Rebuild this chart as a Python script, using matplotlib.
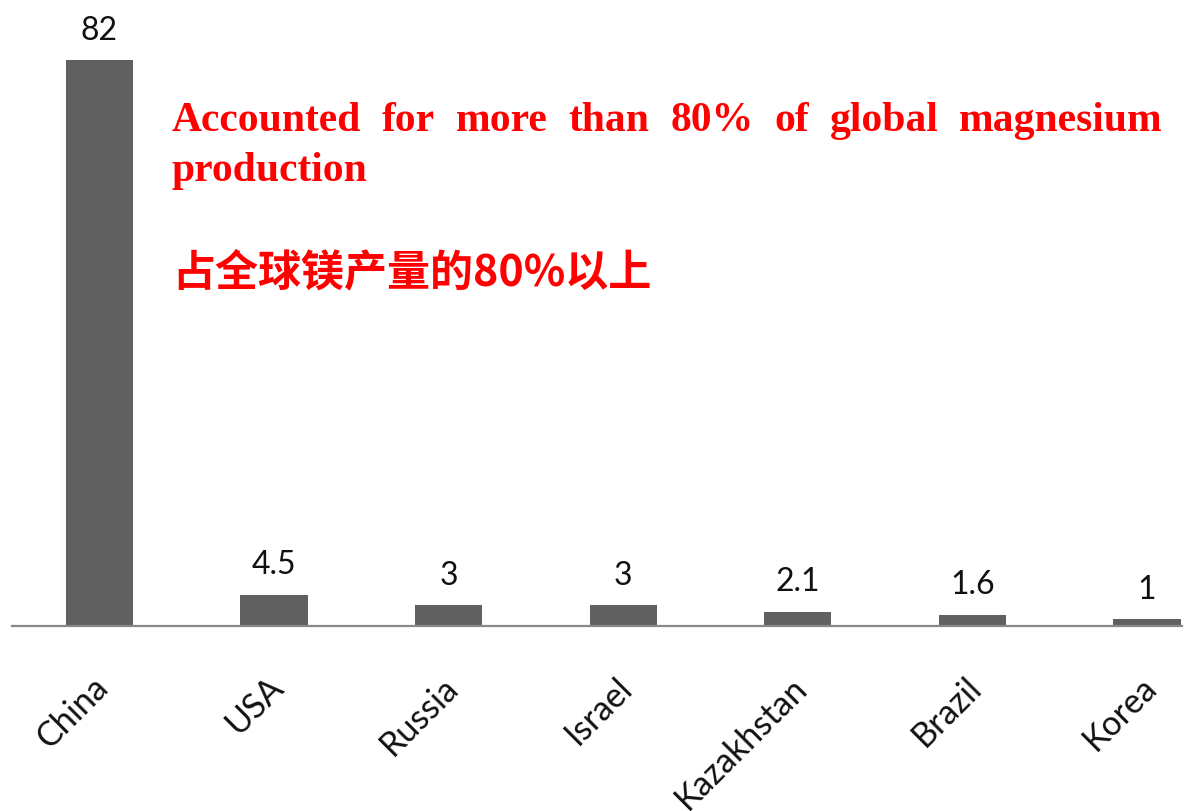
import matplotlib
matplotlib.use("Agg")
import matplotlib.pyplot as plt

# dados
paises = ["China", "USA", "Russia", "Israel", "Kazakhstan", "Brazil", "Korea"]
producao = [82, 4.5, 3, 3, 2.1, 1.6, 1]
rotulos = ["82", "4.5", "3", "3", "2.1", "1.6", "1"]

texto_en_1 = ["Accounted", "for", "more", "than", "80%", "of", "global", "magnesium"]
texto_en_2 = "production"
texto_cn = "占全球镁产量的80%以上"

W, H = 1198, 812
fig = plt.figure(figsize=(W / 100, H / 100), dpi=100)
ax = fig.add_axes([12 / W, 185 / H, 1170 / W, 627 / H])

x = range(len(paises))
ax.bar(x, producao, width=0.385, color="#606060", zorder=2)
ax.set_xlim(-0.5, 6.2)
ax.set_ylim(0, 627 / 6.902)

for s in ["top", "left", "right"]:
    ax.spines[s].set_visible(False)
ax.spines["bottom"].set_color("#888888")
ax.spines["bottom"].set_linewidth(1.6)
ax.set_yticks([])
ax.set_xticks(list(x))
ax.tick_params(axis="x", length=0, pad=0)
ax.set_xticklabels([])

fonte = "Lato"
for i, (v, r) in enumerate(zip(producao, rotulos)):
    ax.annotate(r, (i, v), textcoords="offset points", xytext=(0, 15.5),
                ha="center", va="baseline", fontsize=23, family=fonte, color="#111111")
    ax.annotate(paises[i], (i, 0), textcoords="offset points", xytext=(3, -40),
                ha="right", va="center", rotation=45, rotation_mode="anchor",
                fontsize=24.5, family=fonte, color="#111111")

# texto vermelho justificado
renderer = fig.canvas.get_renderer()
x0, x1 = 172, 1163
y1 = H - 131
palavras = []
for w in texto_en_1:
    t = fig.text(0, y1 / H, w, fontsize=30, family="Liberation Serif",
                 weight="bold", color="#FF0000", va="baseline")
    palavras.append(t)
larguras = [t.get_window_extent(renderer).width for t in palavras]
gap = (x1 - x0 - sum(larguras)) / (len(palavras) - 1)
pos = x0
for t, lw in zip(palavras, larguras):
    t.set_x(pos / W)
    pos += lw + gap

fig.text(x0 / W, (H - 181) / H, texto_en_2, fontsize=30, family="Liberation Serif",
         weight="bold", color="#FF0000", va="baseline")
fig.text(x0 / W, (H - 286) / H, texto_cn, fontsize=31,
         family=["Noto Sans CJK SC", "DejaVu Sans"], weight="bold",
         color="#FF0000", va="baseline")

fig.savefig("out.png", dpi=100)
